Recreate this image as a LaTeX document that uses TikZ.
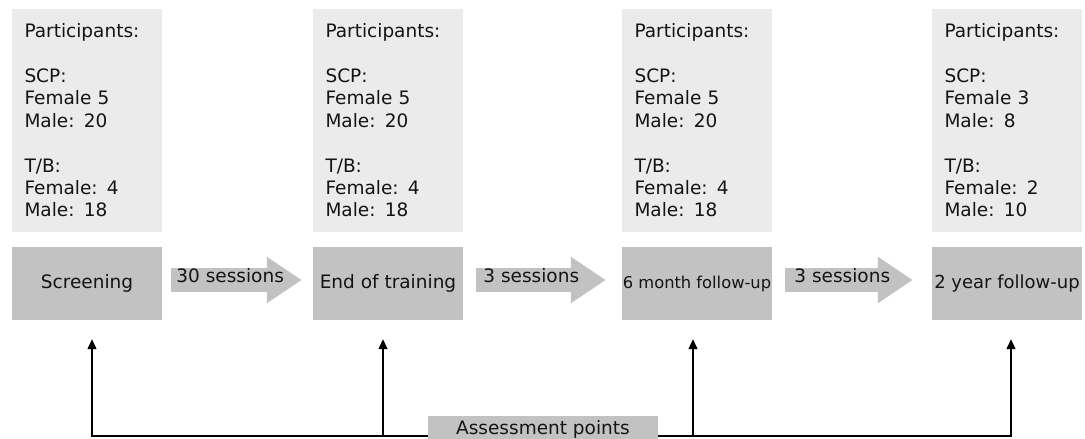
\documentclass[tikz,border=0pt]{standalone}
\usepackage{fontspec}
\setmainfont{DejaVu Sans}
\usetikzlibrary{arrows.meta, positioning}
\definecolor{panelgray}{RGB}{235,235,235}
\definecolor{stagegray}{RGB}{194,194,194}
\definecolor{inkgray}{RGB}{20,20,20}

\begin{document}
\begin{tikzpicture}[x=1pt, y=-1pt, >={Triangle[length=10pt, width=9pt]},
		every node/.style={font=\fontsize{18.5}{22.4}\selectfont, text=inkgray},
		panel/.style={fill=panelgray, minimum width=150pt, minimum height=223pt, text width=125pt, inner xsep=12.5pt, align=left},
		stage/.style={fill=stagegray, minimum width=150pt, minimum height=73pt, inner sep=0pt},
		bigarrow/.style={draw=stagegray, line width=24pt, -{Triangle[length=35pt, width=44pt]}},
		seslbl/.style={anchor=base west, inner sep=0pt},
		conn/.style={->, line width=1.3pt, black, shorten >=19pt}]
		\useasboundingbox (0,0) rectangle (1085,439);
		
		\node[panel] (p1) at (87,120.5) {Participants:\\[22.4pt]SCP:\\Female 5\\Male: 20\\[22.4pt]T/B:\\Female: 4\\Male: 18};
		\node[panel] (p2) at (388,120.5) {Participants:\\[22.4pt]SCP:\\Female 5\\Male: 20\\[22.4pt]T/B:\\Female: 4\\Male: 18};
		\node[panel] (p3) at (697,120.5) {Participants:\\[22.4pt]SCP:\\Female 5\\Male: 20\\[22.4pt]T/B:\\Female: 4\\Male: 18};
		\node[panel] (p4) at (1007,120.5) {Participants:\\[22.4pt]SCP:\\Female 3\\Male: 8\\[22.4pt]T/B:\\Female: 2\\Male: 10};
		
		\node[stage] (b1) at (87,283.5) {Screening};
		\node[stage] (b2) at (388,283.5) {End of training};
		\node[stage, font=\fontsize{16.3}{20}\selectfont] (b3) at (697,283.5) {6 month follow-up};
		\node[stage, font=\fontsize{18}{22}\selectfont] (b4) at (1007,283.5) {2 year follow-up};
		
		\path ([yshift=3.5pt]b1.east) edge[bigarrow, shorten <=9pt, shorten >=11pt] ([yshift=3.5pt]b2.west)
			([yshift=3.5pt]b2.east) edge[bigarrow, shorten <=13pt, shorten >=16pt] ([yshift=3.5pt]b3.west)
			([yshift=3.5pt]b3.east) edge[bigarrow, shorten <=13pt, shorten >=19pt] ([yshift=3.5pt]b4.west);
		
		\node[seslbl] (s1) at ([xshift=14pt, yshift=1.5pt]b1.east) {30 sessions};
		\node[seslbl] (s2) at ([xshift=20pt, yshift=1.5pt]b2.east) {3 sessions};
		\node[seslbl] (s3) at ([xshift=22pt, yshift=1.5pt]b3.east) {3 sessions};
		
		% assessment bus along the bottom
		\node[stage, minimum width=230pt, minimum height=27pt] (ap) at (543,429.5) {Assessment points};
		\coordinate (busl) at ([yshift=-6.5pt]ap.west);
		\coordinate (busr) at ([yshift=-6.5pt]ap.east);
		\draw[conn] (busl) -| ([xshift=5pt]b1.south);
		\draw[conn] ([xshift=-5pt]b2.south |- busl) -- ([xshift=-5pt]b2.south);
		\draw[conn] ([xshift=-4pt]b3.south |- busr) -- ([xshift=-4pt]b3.south);
		\draw[conn] (busr) -| ([xshift=4pt]b4.south);
	\end{tikzpicture}
\end{document}
